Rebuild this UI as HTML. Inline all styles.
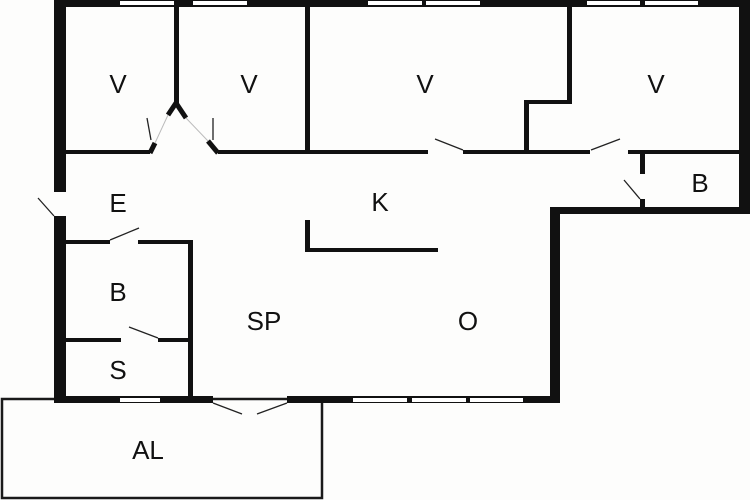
<!DOCTYPE html>
<html><head><style>html,body{margin:0;padding:0;background:#fff}svg{display:block}text{font-family:"Liberation Sans",sans-serif;font-size:26px;fill:#111;text-anchor:middle;dominant-baseline:central}</style></head>
<body>
<svg width="750" height="500" viewBox="0 0 750 500" xmlns="http://www.w3.org/2000/svg">
<rect width="750" height="500" fill="#fdfdfc"/>
<rect x="2" y="399" width="320" height="99" fill="none" stroke="#1a1a1a" stroke-width="2.5"/>
<g fill="#111">
<rect x="54" y="0" width="696" height="7"/>
<rect x="54" y="0" width="12" height="192"/>
<rect x="54" y="216" width="12" height="187"/>
<rect x="739" y="0" width="11" height="214"/>
<rect x="550" y="207" width="200" height="7"/>
<rect x="550" y="207" width="10" height="196"/>
<rect x="57" y="396" width="156" height="7"/>
<rect x="287" y="396" width="273" height="7"/>
<rect x="174" y="0" width="5" height="104"/>
<rect x="305" y="0" width="5" height="154"/>
<rect x="66" y="150" width="84" height="4"/>
<rect x="218" y="150" width="210" height="4"/>
<rect x="463" y="150" width="127" height="4"/>
<rect x="628" y="150" width="112" height="4"/>
<rect x="524" y="100" width="5" height="54"/>
<rect x="524" y="100" width="48" height="4"/>
<rect x="567" y="0" width="5" height="104"/>
<rect x="640" y="152" width="5" height="22"/>
<rect x="640" y="199" width="5" height="12"/>
<rect x="66" y="240" width="44" height="4"/>
<rect x="138" y="240" width="55" height="4"/>
<rect x="188" y="240" width="5" height="160"/>
<rect x="66" y="338" width="55" height="4"/>
<rect x="158" y="338" width="35" height="4"/>
<rect x="305" y="220" width="5" height="32"/>
<rect x="305" y="248" width="133" height="4"/>
</g>
<g stroke="#111" stroke-width="5" fill="none">
<path d="M150 153 L155 143"/><path d="M168 115 L176 103 L186 118"/><path d="M208 141 L218 153"/>
</g>
<g stroke="#bbb" stroke-width="1"><path d="M155 143 L168 115"/><path d="M186 118 L208 141"/></g>
<g fill="#fff">
<rect x="120" y="1" width="54" height="4"/><rect x="193" y="1" width="54" height="4"/>
<rect x="368" y="1" width="54" height="4"/><rect x="426" y="1" width="54" height="4"/>
<rect x="587" y="1" width="53" height="4"/><rect x="645" y="1" width="53" height="4"/>
<rect x="120" y="398" width="40" height="4"/><rect x="353" y="398" width="54" height="4"/>
<rect x="412" y="398" width="54" height="4"/><rect x="470" y="398" width="53" height="4"/>
</g>
<g stroke="#222" stroke-width="1.3">
<line x1="54" y1="216" x2="38" y2="198"/>
<line x1="110" y1="240" x2="139" y2="228"/>
<line x1="158" y1="338" x2="129" y2="327"/>
<line x1="151" y1="140" x2="147" y2="118"/>
<line x1="213" y1="140" x2="213" y2="118"/>
<line x1="463" y1="150" x2="435" y2="139"/>
<line x1="591" y1="150" x2="620" y2="139"/>
<line x1="640" y1="199" x2="624" y2="180"/>
<line x1="213" y1="403" x2="242" y2="414"/>
<line x1="287" y1="403" x2="257" y2="414"/>
</g>
<text x="118" y="84">V</text><text x="249" y="84">V</text><text x="425" y="84">V</text><text x="656" y="84">V</text>
<text x="118" y="203">E</text><text x="380" y="202">K</text><text x="700" y="183">B</text>
<text x="118" y="292">B</text><text x="264" y="321">SP</text><text x="468" y="321">O</text>
<text x="118" y="370">S</text><text x="148" y="450">AL</text>
</svg>
</body></html>
